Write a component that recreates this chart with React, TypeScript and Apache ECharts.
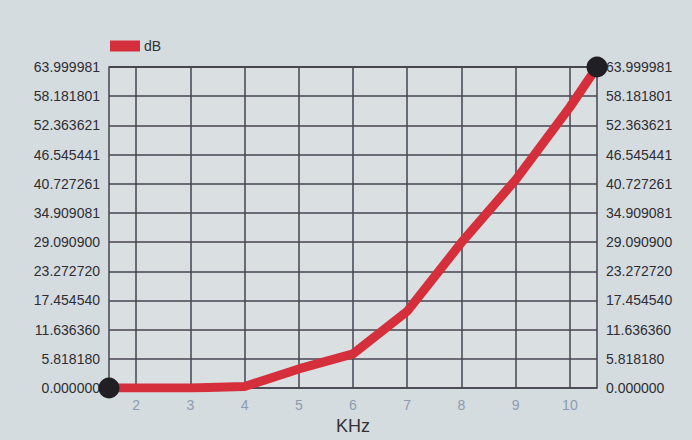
import React, { useEffect, useRef } from "react";
import * as echarts from "echarts";

const xTicks = [2, 3, 4, 5, 6, 7, 8, 9, 10];
const xValues = [1.5, 2, 3, 4, 5, 6, 7, 8, 9, 10, 10.5];
const dbValues = [0, 0, 0, 0.3, 3.8, 6.8, 15.3, 29, 41.5, 56, 63.999981];
const yLabels = [
  "0.000000", "5.818180", "11.636360", "17.454540", "23.272720", "29.090900",
  "34.909081", "40.727261", "46.545441", "52.363621", "58.181801", "63.999981",
];
const yMax = 63.999981;
const seriesName = "dB";
const xName = "KHz";

export default function App() {
  const ref = useRef<HTMLDivElement>(null);
  useEffect(() => {
    if (!ref.current) return;
    const chart = echarts.init(ref.current, null, { renderer: "svg" });
    const step = yMax / 11;
    const fmt = (v: number) => {
      const i = Math.round(v / step);
      return yLabels[i] ?? "";
    };
    const yAxisBase = {
      type: "value" as const,
      min: 0,
      max: yMax,
      interval: step,
      axisLine: { show: false },
      axisTick: { show: false },
      splitLine: { show: true, lineStyle: { color: "#45454f", width: 1.5 } },
      axisLabel: {
        formatter: fmt,
        color: "#2e2e33",
        fontSize: 14,
        fontFamily: "Liberation Sans",
        margin: 9,
      },
    };
    chart.setOption({
      animation: false,
      backgroundColor: "#d5dce0",
      legend: {
        data: [seriesName],
        left: 110,
        top: 39,
        padding: 0,
        itemWidth: 30,
        itemHeight: 11,
        itemGap: 4,
        icon: "rect",
        textStyle: { color: "#333", fontSize: 14, fontFamily: "Liberation Sans", padding: [0, 0, 0, -1] },
      },
      grid: {
        left: 109,
        right: 95,
        top: 67,
        bottom: 52,
        show: true,
        backgroundColor: "#dadfe2",
        borderColor: "#45454f",
        borderWidth: 1.5,
      },
      xAxis: {
        type: "value",
        min: 1.5,
        max: 10.5,
        name: xName,
        nameLocation: "middle",
        nameGap: 27,
        nameTextStyle: { color: "#333", fontSize: 18, fontFamily: "Liberation Sans" },
        axisLine: { show: false },
        axisTick: { show: false, customValues: xTicks },
        splitLine: { show: true, lineStyle: { color: "#45454f", width: 1.5 } },
        axisLabel: {
          customValues: xTicks,
          color: "#8c9bb0",
          fontSize: 14,
          fontFamily: "Liberation Sans",
          margin: 10,
        },
      },
      yAxis: [
        { ...yAxisBase, position: "left" },
        { ...yAxisBase, position: "right", splitLine: { show: false } },
      ],
      series: [
        {
          name: seriesName,
          type: "line",
          data: xValues.map((x, i) => [x, dbValues[i]]),
          lineStyle: { color: "#d52f3c", width: 9 },
          itemStyle: { color: "#d52f3c" },
          symbol: "none",
          z: 5,
          emphasis: { disabled: true },
        },
        {
          type: "scatter",
          data: [
            [xValues[0], dbValues[0]],
            [xValues[xValues.length - 1], dbValues[dbValues.length - 1]],
          ],
          symbolSize: 21,
          itemStyle: { color: "#1f1f24", opacity: 1 },
          z: 6,
          silent: true,
        },
      ],
    });
    return () => chart.dispose();
  }, []);
  return (
    <div
      ref={ref}
      style={{ position: "fixed", left: 0, top: 0, width: 692, height: 440 }}
    />
  );
}
